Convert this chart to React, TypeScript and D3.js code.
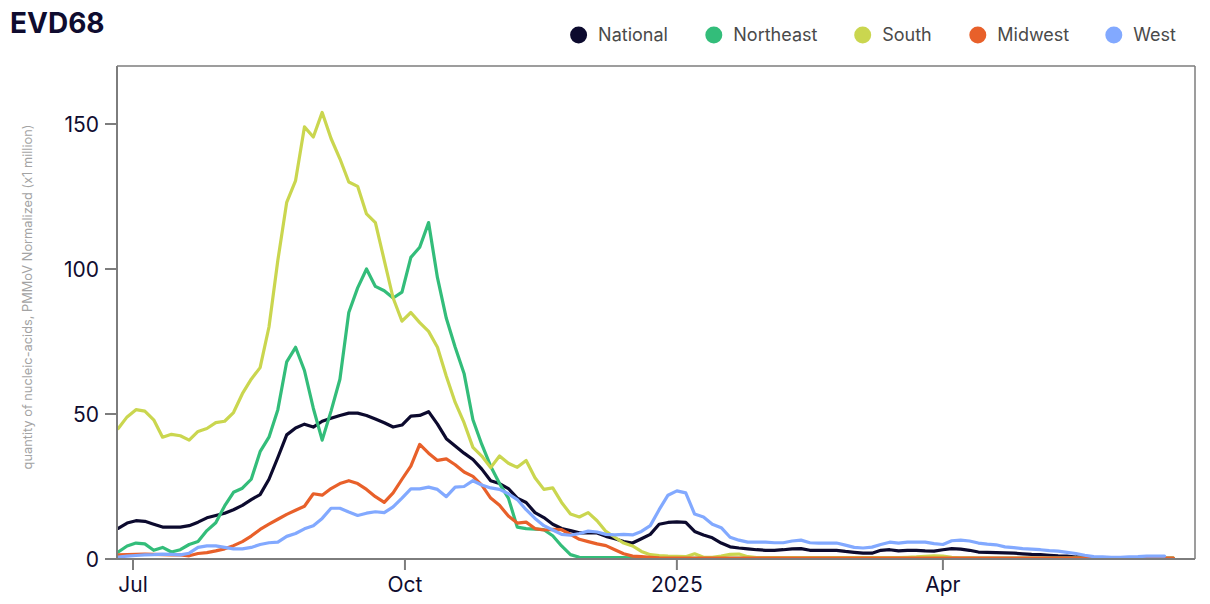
import React from "react";
import * as d3 from "d3";

// ---- data (sampled every 3 days from 2024-06-26) ----
const START_DATE = new Date(2024, 5, 26);
const STEP_DAYS = 3;

const seriesNames = ["National", "Northeast", "South", "Midwest", "West"];
const seriesColors = ["#0c0a2e", "#33bd7a", "#cad64f", "#e8602a", "#82a9ff"];

const national = [
  10.6, 12.4, 13.2, 13, 12, 11, 11, 11, 11.5, 12.7,
  14.2, 15, 15.8, 17, 18.5, 20.5, 22.2, 27.5, 35, 42.8,
  45.2, 46.5, 45.5, 47.5, 48.5, 49.5, 50.3, 50.3, 49.5, 48.3,
  47, 45.5, 46.2, 49.3, 49.5, 50.8, 46.5, 41.5, 39, 36.5,
  34.3, 31, 27, 26, 24.3, 21, 19.5, 16, 14.3, 12,
  10.5, 9.8, 9, 9, 9, 7.8, 7, 6, 5.5, 7,
  8.5, 12, 12.6, 12.8, 12.6, 9.5, 8.3, 7.3, 5.5, 4.2,
  3.8, 3.5, 3.2, 3, 3, 3.2, 3.5, 3.6, 3, 3,
  3, 3, 2.6, 2.3, 2, 2, 3, 3.2, 2.8, 3,
  3, 2.8, 2.7, 3.2, 3.6, 3.4, 3, 2.4, 2.3, 2.2,
  2.1, 2, 1.8, 1.6, 1.5, 1.3, 1.1, 1, 0.7, 0.5,
  0.3, 0.3, 0.2, 0.2, 0.2, 0.2, 0.2, 0.2, 0.2, 0.2,
];

const northeast = [
  2.4, 4.5, 5.5, 5.2, 3, 4, 2.4, 3.2, 5, 6,
  9.8, 12.5, 18.3, 23, 24.4, 27.5, 37, 42, 51.5, 68,
  73, 65, 52, 41, 51, 62, 85, 93.5, 100, 94,
  92.5, 90, 92, 104, 107.5, 116, 97, 83, 73, 64,
  48, 39.5, 32, 26, 21, 11, 10.5, 10.3, 10.1, 8,
  4.5, 1.5, 0.6, 0.5, 0.5, 0.5, 0.5, 0.5, 0.4, 0.3,
  0.2, 0.2, 0.2, 0.2, 0.2, 0.2, 0.2, 0.2, 0.2, 0.2,
  0.2, 0.2, 0.2, 0.2, 0.2, 0.2, 0.2, 0.2, 0.2, 0.2,
  0.2, 0.2, 0.2, 0.2, 0.2, 0.2, 0.2, 0.2, 0.2, 0.2,
  0.2, 0.2, 0.2, 0.2, 0.2, 0.2, 0.2, 0.2, 0.2, 0.2,
  0.2, 0.2, 0.2, 0.2, 0.2, 0.2, 0.2, 0.2, 0.2, 0.2,
  0.2, 0.2, 0.2, 0.2, 0.2, 0.2, 0.2, 0.2, 0.2, 0.2,
];

const south = [
  45, 49, 51.5, 51, 48, 42, 43, 42.5, 41, 44,
  45, 47, 47.5, 50.5, 57, 62, 66, 80, 103, 123,
  130.5, 149, 145.5, 154, 145, 138, 130, 128.5, 119, 116,
  103, 90, 82, 85, 81.5, 78.5, 73, 63, 54, 47,
  38.5, 35.5, 31.5, 35.5, 33, 31.6, 34, 28, 24, 24.5,
  19.5, 15.5, 14.5, 16, 13.2, 9.5, 7.5, 5.5, 4.5, 2.6,
  1.5, 1.2, 1, 0.9, 0.8, 1.8, 0.6, 0.6, 1, 1.6,
  1.7, 0.8, 0.5, 0.5, 0.5, 0.5, 0.5, 0.5, 0.5, 0.5,
  0.5, 0.5, 0.5, 0.5, 0.5, 0.5, 0.5, 0.5, 0.5, 0.6,
  0.7, 0.9, 1.1, 1.0, 0.6, 0.4, 0.4, 0.3, 0.3, 0.3,
  0.3, 0.3, 0.3, 0.3, 0.3, 0.3, 0.3, 0.3, 0.3, 0.3,
  0.3, 0.3, 0.3, 0.3, 0.3, 0.3, 0.3, 0.3, 0.3, 0.3,
];

const midwest = [
  1.4, 1.5, 1.6, 1.7, 1.6, 1.5, 1.4, 1.4, 1.1, 1.9,
  2.2, 2.8, 3.5, 4.6, 6, 7.9, 10.2, 12, 13.7, 15.4,
  16.8, 18.2, 22.5, 22, 24.3, 26, 27, 26, 24, 21.5,
  19.5, 22.8, 27.5, 32, 39.5, 36.5, 34, 34.5, 32.5, 30,
  28.5, 25.5, 21, 18.5, 14.8, 12.4, 12.7, 10.5, 10, 10.2,
  10.1, 8.5, 6.8, 6, 5.2, 4.6, 3.2, 1.8, 1, 0.8,
  0.6, 0.4, 0.3, 0.3, 0.3, 0.3, 0.3, 0.3, 0.3, 0.3,
  0.3, 0.3, 0.3, 0.3, 0.3, 0.3, 0.3, 0.3, 0.3, 0.3,
  0.3, 0.3, 0.3, 0.3, 0.3, 0.3, 0.3, 0.3, 0.3, 0.3,
  0.3, 0.3, 0.3, 0.3, 0.3, 0.3, 0.3, 0.3, 0.3, 0.3,
  0.3, 0.3, 0.3, 0.3, 0.3, 0.3, 0.3, 0.3, 0.3, 0.3,
  0.3, 0.3, 0.3, 0.3, 0.3, 0.3, 0.3, 0.3, 0.3, 0.3,
];

const west = [
  0.7, 1, 1.2, 1.4, 1.5, 1.7, 1.6, 1.4, 2, 4,
  4.5, 4.5, 4, 3.5, 3.5, 4, 5, 5.6, 5.8, 7.8,
  8.8, 10.4, 11.5, 14, 17.5, 17.5, 16.2, 15, 15.8, 16.3,
  16, 18, 21, 24.2, 24.2, 24.8, 24, 21.5, 24.8, 25,
  27, 25.5, 24.5, 24, 22.5, 20.5, 17, 14, 11.5, 10,
  8.5, 8.2, 8.8, 9.6, 9.3, 8.5, 8.3, 8.5, 8.3, 9.5,
  11.5, 17, 22, 23.5, 22.8, 15.5, 14.5, 12, 10.8, 7.5,
  6.5, 5.8, 5.8, 5.8, 5.6, 5.6, 6.2, 6.5, 5.6, 5.5,
  5.5, 5.5, 4.8, 4, 3.8, 4.1, 5, 5.8, 5.5, 5.8,
  5.8, 5.8, 5.3, 5, 6.3, 6.5, 6.2, 5.5, 5.1, 4.9,
  4.2, 3.9, 3.6, 3.4, 3.2, 2.9, 2.7, 2.3, 1.9, 1.3,
  0.8, 0.7, 0.6, 0.6, 0.7, 0.8, 1, 1, 1,
];

const seriesValues = [national, northeast, south, midwest, west];

const yTicks = [0, 50, 100, 150];
const xTickDates = [new Date(2024, 6, 1), new Date(2024, 9, 1), new Date(2025, 0, 1), new Date(2025, 3, 1)];
const xTickLabels = ["Jul", "Oct", "2025", "Apr"];

const title = "EVD68";
const yAxisLabel = "quantity of nucleic-acids, PMMoV Normalized (x1 million)";

// ---- layout ----
const W = 1210;
const H = 604;
const plot = { left: 117, right: 1195, top: 66, bottom: 559 };
const legendX = [578.6, 713.8, 862.7, 977.8, 1113.8];
const FONT = "Inter, 'Noto Sans', sans-serif";
const axisColor = "#7d7d7d";
const textDark = "#0f0c2f";

export default function App() {
  const x = d3
    .scaleTime()
    .domain([new Date(2024, 5, 25, 14), new Date(2025, 5, 25, 7)])
    .range([plot.left, plot.right]);
  const y = d3.scaleLinear().domain([0, 170]).range([plot.bottom, plot.top]);

  const line = d3
    .line<[Date, number]>()
    .x((d) => x(d[0]))
    .y((d) => y(d[1]))
    .curve(d3.curveLinear);

  const paths = seriesValues.map((vals) =>
    line(vals.map((v, i) => [d3.timeDay.offset(START_DATE, i * STEP_DAYS), v] as [Date, number]))
  );

  return (
    <svg
      width={W}
      height={H}
      style={{ position: "absolute", left: 0, top: 0, background: "#fff" }}
      fontFamily={FONT}
    >
      <defs>
        <clipPath id="plotclip">
          <rect x={plot.left} y={plot.top} width={plot.right - plot.left} height={plot.bottom - plot.top} />
        </clipPath>
      </defs>

      <text x={10} y={33} fontSize={28} fontWeight={700} fill={textDark}>
        {title}
      </text>

      {seriesNames.map((name, i) => (
        <g key={name}>
          <circle cx={legendX[i]} cy={35} r={8.5} fill={seriesColors[i]} />
          <text x={legendX[i] + 19.5} y={35} dy="0.35em" fontSize={18} fill="#4a4a4a">
            {name}
          </text>
        </g>
      ))}

      {/* frame */}
      <line x1={plot.left} x2={plot.right} y1={plot.top} y2={plot.top} stroke={axisColor} strokeWidth={1.5} />
      <line x1={plot.right} x2={plot.right} y1={plot.top} y2={plot.bottom} stroke={axisColor} strokeWidth={1.5} />

      <g clipPath="url(#plotclip)">
        {paths.map((p, i) => (
          <path
            key={seriesNames[i]}
            d={p || ""}
            fill="none"
            stroke={seriesColors[i]}
            strokeWidth={3.2}
            strokeLinejoin="round"
            strokeLinecap="round"
          />
        ))}
      </g>

      {/* y axis */}
      <line x1={plot.left} x2={plot.left} y1={plot.top} y2={plot.bottom} stroke={axisColor} strokeWidth={2} />
      {yTicks.map((t) => (
        <g key={t}>
          <line x1={plot.left - 12} x2={plot.left} y1={y(t)} y2={y(t)} stroke={axisColor} strokeWidth={2} />
          <text x={plot.left - 18} y={y(t)} dy="0.36em" textAnchor="end" fontSize={21} fill={textDark}>
            {t}
          </text>
        </g>
      ))}
      <text
        transform={`translate(32, 297) rotate(-90)`}
        textAnchor="middle"
        fontSize={12.8}
        fill="#a3a3a3"
      >
        {yAxisLabel}
      </text>

      {/* x axis */}
      <line x1={plot.left - 12} x2={plot.right} y1={plot.bottom} y2={plot.bottom} stroke={axisColor} strokeWidth={2} />
      {xTickDates.map((d, i) => (
        <g key={xTickLabels[i]}>
          <line x1={x(d)} x2={x(d)} y1={plot.bottom} y2={plot.bottom + 11} stroke={axisColor} strokeWidth={2} />
          <text x={x(d)} y={592} textAnchor="middle" fontSize={21} fill={textDark}>
            {xTickLabels[i]}
          </text>
        </g>
      ))}
    </svg>
  );
}
